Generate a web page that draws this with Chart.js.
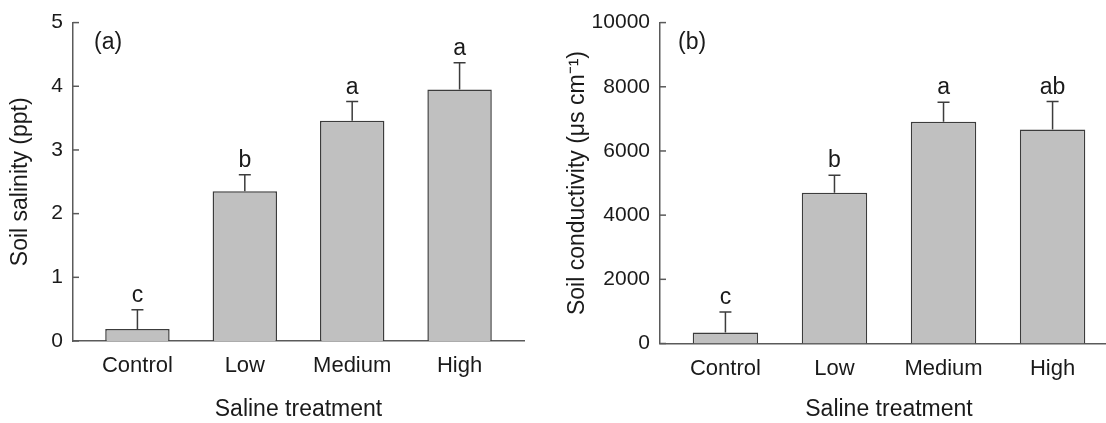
<!DOCTYPE html>
<html>
<head>
<meta charset="utf-8">
<script src="https://cdn.jsdelivr.net/npm/chart.js"></script>
<style>
    html, body { margin: 0; padding: 0; background: #fff; overflow: hidden; }
    #wrap { position: relative; width: 1106px; height: 423px; overflow: hidden; }
    #box_a { position: absolute; left: 0; top: 0; width: 553px; height: 423px; }
    #box_b { position: absolute; left: 553px; top: 0; width: 600px; height: 423px; }
</style>
</head>
<body>
<div id="wrap">
    <div id="box_a"><canvas id="canvas_a"></canvas></div>
    <div id="box_b"><canvas id="canvas_b"></canvas></div>
</div>
<script>
const categorias = ['Control', 'Low', 'Medium', 'High'];

const salinidade = [0.19, 2.35, 3.46, 3.95];
const salinidadeErro = [0.30, 0.26, 0.30, 0.42];
const salinidadeLetras = ['c', 'b', 'a', 'a'];
const salinidadeTicks = [0, 1, 2, 3, 4, 5];

const condutividade = [340, 4700, 6910, 6670];
const condutividadeErro = [640, 540, 610, 870];
const condutividadeLetras = ['c', 'b', 'a', 'ab'];
const condutividadeTicks = [0, 2000, 4000, 6000, 8000, 10000];

const fonte = '"Liberation Sans", Arial, sans-serif';
const corTexto = '#1a1a1a';
const corEixo = '#5a5a5a';

// error bars, letters, inner ticks and panel label
const extrasPlugin = {
    id: 'extras',
    afterDatasetsDraw(chart, args, opts) {
        const ctx = chart.ctx;
        const x = chart.scales.x;
        const y = chart.scales.y;
        const area = chart.chartArea;

        ctx.save();
        ctx.strokeStyle = corEixo;
        ctx.lineWidth = 1.5;
        y.ticks.forEach(t => {
            const py = y.getPixelForValue(t.value);
            ctx.beginPath();
            ctx.moveTo(area.left, py);
            ctx.lineTo(area.left + 6, py);
            ctx.stroke();
        });

        ctx.strokeStyle = '#3c3c3c';
        ctx.fillStyle = corTexto;
        ctx.font = '23px ' + fonte;
        ctx.textAlign = 'center';
        ctx.textBaseline = 'alphabetic';
        for (let i = 0; i < opts.valores.length; i++) {
            const px = x.getPixelForValue(i);
            const topo = y.getPixelForValue(opts.valores[i]);
            const cap = y.getPixelForValue(opts.valores[i] + opts.erros[i]);
            ctx.beginPath();
            ctx.moveTo(px, topo);
            ctx.lineTo(px, cap);
            ctx.moveTo(px - 6, cap);
            ctx.lineTo(px + 6, cap);
            ctx.stroke();
            ctx.fillText(opts.letras[i], px, cap - 8);
        }

        ctx.textAlign = 'left';
        ctx.textBaseline = 'middle';
        ctx.fillText(opts.painel, area.left + opts.painelX, area.top + 20);
        ctx.restore();
    }
};

function montarGrafico(canvas, valores, erros, letras, ticks, tituloY, painel, cfg) {
    return new Chart(canvas, {
        type: 'bar',
        data: {
            datasets: [{
                data: valores.map((v, i) => ({ x: i, y: v })),
                backgroundColor: '#c0c0c0',
                borderColor: '#3c3c3c',
                borderWidth: 1.5,
                categoryPercentage: 1,
                barPercentage: 0.6,
            }],
        },
        options: {
            responsive: true,
            maintainAspectRatio: false,
            animation: false,
            events: [],
            layout: {
                padding: { top: cfg.topo, right: cfg.direita, bottom: 0, left: 0 },
            },
            scales: {
                x: {
                    type: 'linear',
                    offset: false,
                    min: -0.6,
                    max: 3.6,
                    afterBuildTicks: s => { s.ticks = categorias.map((c, i) => ({ value: i })); },
                    afterFit: s => { s.height = cfg.alturaX; },
                    grid: { display: false, drawTicks: false },
                    border: { display: true, color: corEixo, width: 1.5 },
                    ticks: {
                        autoSkip: false,
                        maxRotation: 0,
                        padding: 12,
                        color: corTexto,
                        font: { family: fonte, size: 22 },
                        callback: v => categorias[v],
                    },
                    title: {
                        display: true,
                        text: 'Saline treatment',
                        color: corTexto,
                        font: { family: fonte, size: 23, lineHeight: 1.0 },
                        padding: { top: 0, bottom: 2 },
                    },
                },
                y: {
                    min: 0,
                    max: ticks[ticks.length - 1],
                    afterBuildTicks: s => { s.ticks = ticks.map(v => ({ value: v })); },
                    afterFit: s => { s.width = cfg.larguraY; },
                    grid: { display: false, drawTicks: false },
                    border: { display: true, color: corEixo, width: 1.5 },
                    ticks: {
                        padding: 10,
                        color: corTexto,
                        font: { family: fonte, size: 21 },
                        callback: v => String(v),
                    },
                    title: {
                        display: true,
                        text: tituloY,
                        color: corTexto,
                        font: { family: fonte, size: 23, lineHeight: 1.0 },
                        padding: { top: cfg.tituloY, bottom: 0 },
                    },
                },
            },
            plugins: {
                legend: { display: false },
                tooltip: { enabled: false },
                extras: { valores: valores, erros: erros, letras: letras, painel: painel, painelX: cfg.painelX },
            },
        },
        plugins: [extrasPlugin],
    });
}

montarGrafico(document.getElementById('canvas_a'), salinidade, salinidadeErro, salinidadeLetras,
    salinidadeTicks, 'Soil salinity (ppt)', '(a)',
    { topo: 17, direita: 29, alturaX: 82, larguraY: 73, tituloY: 9, painelX: 21 });

montarGrafico(document.getElementById('canvas_b'), condutividade, condutividadeErro, condutividadeLetras,
    condutividadeTicks, 'Soil conductivity (μs cm⁻¹)', '(b)',
    { topo: 17, direita: 35, alturaX: 79.5, larguraY: 107, tituloY: 13, painelX: 18 });
</script>
</body>
</html>
